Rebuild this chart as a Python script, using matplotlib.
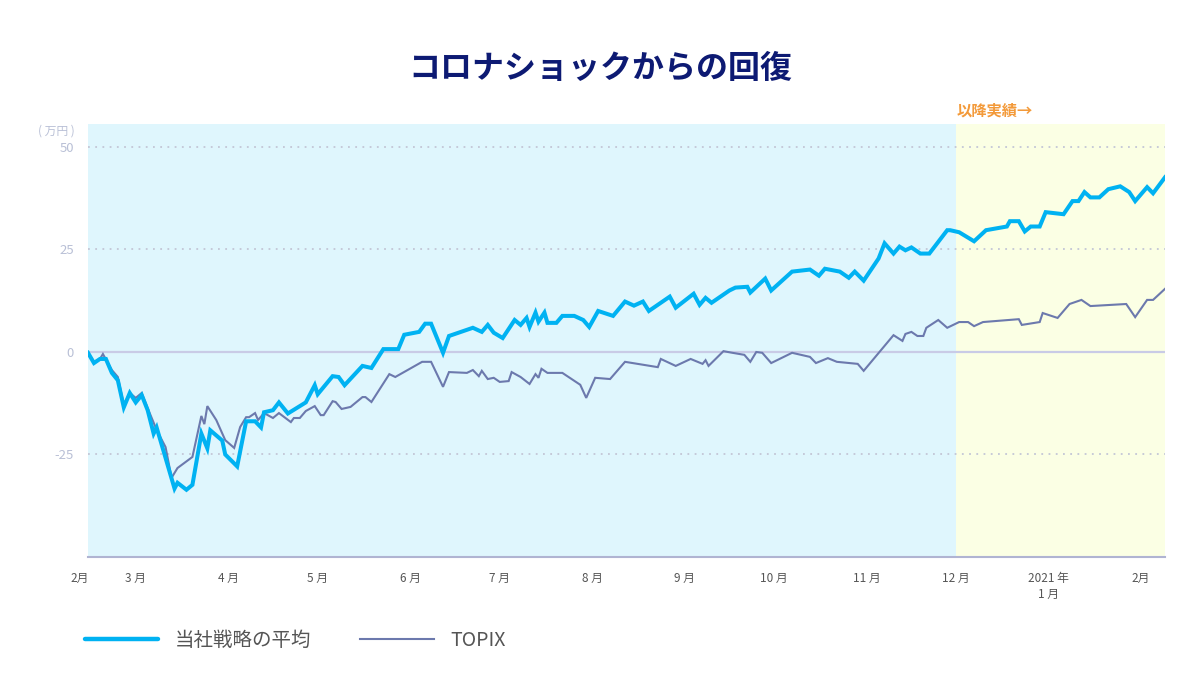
import matplotlib
matplotlib.use("Agg")
import matplotlib.pyplot as plt
import matplotlib.dates as mdates
from matplotlib.lines import Line2D
from matplotlib.transforms import ScaledTranslation
import pandas as pd

plt.rcParams['font.family'] = ['Noto Sans CJK JP', 'DejaVu Sans']

title = "コロナショックからの回復"
series_names = ["当社戦略の平均", "TOPIX"]
unit_label = "( 万円 )"
actual_label = "以降実績→"
actual_start = "2020-12-01"

strategy_dates = [
    "2020-02-14", "2020-02-16", "2020-02-18", "2020-02-20", "2020-02-22", "2020-02-24",
    "2020-02-26", "2020-02-28", "2020-03-01", "2020-03-03", "2020-03-05", "2020-03-07",
    "2020-03-08", "2020-03-14", "2020-03-15", "2020-03-18", "2020-03-20", "2020-03-23",
    "2020-03-25", "2020-03-26", "2020-03-30", "2020-03-31", "2020-04-04", "2020-04-07",
    "2020-04-10", "2020-04-12", "2020-04-13", "2020-04-16", "2020-04-18", "2020-04-21",
    "2020-04-25", "2020-04-27", "2020-04-30", "2020-05-01", "2020-05-06", "2020-05-08",
    "2020-05-10", "2020-05-16", "2020-05-19", "2020-05-23", "2020-05-28", "2020-05-30",
    "2020-06-04", "2020-06-06", "2020-06-08", "2020-06-12", "2020-06-14", "2020-06-22",
    "2020-06-25", "2020-06-27", "2020-06-29", "2020-07-02", "2020-07-06", "2020-07-08",
    "2020-07-10", "2020-07-11", "2020-07-13", "2020-07-14", "2020-07-16", "2020-07-17",
    "2020-07-20", "2020-07-22", "2020-07-26", "2020-07-29", "2020-07-31", "2020-08-03",
    "2020-08-08", "2020-08-12", "2020-08-15", "2020-08-18", "2020-08-20", "2020-08-27",
    "2020-08-29", "2020-09-04", "2020-09-06", "2020-09-08", "2020-09-10", "2020-09-16",
    "2020-09-18", "2020-09-22", "2020-09-23", "2020-09-28", "2020-09-30", "2020-10-07",
    "2020-10-13", "2020-10-16", "2020-10-18", "2020-10-23", "2020-10-26", "2020-10-28",
    "2020-10-31", "2020-11-05", "2020-11-07", "2020-11-10", "2020-11-12", "2020-11-14",
    "2020-11-16", "2020-11-19", "2020-11-22", "2020-11-28", "2020-11-29", "2020-12-02",
    "2020-12-07", "2020-12-11", "2020-12-18", "2020-12-19", "2020-12-22", "2020-12-24",
    "2020-12-26", "2020-12-29", "2020-12-31", "2021-01-06", "2021-01-09", "2021-01-11",
    "2021-01-13", "2021-01-15", "2021-01-18", "2021-01-21", "2021-01-25", "2021-01-28",
    "2021-01-30", "2021-02-03", "2021-02-05", "2021-02-09",
]
strategy_values = [
    -0.2, -2.7, -1.7, -1.7, -5.1, -6.9,
    -13.5, -10.0, -12.3, -10.5, -14.2, -19.9,
    -18.4, -33.3, -31.9, -33.6, -32.4, -19.9,
    -23.5, -19.1, -21.6, -25.0, -27.9, -16.9,
    -16.9, -18.4, -14.7, -14.2, -12.3, -15.0,
    -13.2, -12.3, -8.1, -10.3, -5.9, -6.1,
    -8.1, -3.4, -3.9, 0.7, 0.7, 4.2,
    4.9, 6.9, 6.9, -0.2, 3.9, 5.9,
    4.9, 6.6, 4.7, 3.4, 7.8, 6.6,
    8.3, 6.1, 9.6, 7.4, 9.6, 7.1,
    7.1, 8.8, 8.8, 7.8, 6.1, 10.0,
    8.8, 12.3, 11.3, 12.3, 10.0, 13.5,
    10.8, 14.2, 11.5, 13.2, 12.0, 15.0,
    15.7, 15.9, 14.5, 17.9, 15.0, 19.6,
    20.1, 18.6, 20.3, 19.6, 18.1, 19.6,
    17.4, 22.8, 26.5, 24.0, 25.7, 24.8,
    25.5, 24.0, 24.0, 29.7, 29.7, 29.2,
    27.0, 29.7, 30.6, 31.9, 31.9, 29.4,
    30.6, 30.6, 34.1, 33.6, 36.8, 36.8,
    39.0, 37.7, 37.7, 39.7, 40.4, 39.0,
    36.8, 40.2, 38.7, 42.6,
]

topix_dates = [
    "2020-02-14", "2020-02-16", "2020-02-18", "2020-02-19", "2020-02-22", "2020-02-24",
    "2020-02-26", "2020-02-28", "2020-03-01", "2020-03-03", "2020-03-05", "2020-03-08",
    "2020-03-11", "2020-03-13", "2020-03-15", "2020-03-20", "2020-03-23", "2020-03-24",
    "2020-03-25", "2020-03-28", "2020-03-31", "2020-04-03", "2020-04-05", "2020-04-07",
    "2020-04-08", "2020-04-10", "2020-04-11", "2020-04-13", "2020-04-16", "2020-04-18",
    "2020-04-22", "2020-04-23", "2020-04-25", "2020-04-27", "2020-04-30", "2020-05-02",
    "2020-05-03", "2020-05-06", "2020-05-07", "2020-05-09", "2020-05-12", "2020-05-16",
    "2020-05-17", "2020-05-19", "2020-05-25", "2020-05-27", "2020-06-05", "2020-06-08",
    "2020-06-12", "2020-06-14", "2020-06-20", "2020-06-22", "2020-06-24", "2020-06-25",
    "2020-06-27", "2020-06-29", "2020-07-01", "2020-07-04", "2020-07-05", "2020-07-08",
    "2020-07-11", "2020-07-13", "2020-07-14", "2020-07-15", "2020-07-17", "2020-07-22",
    "2020-07-28", "2020-07-30", "2020-08-02", "2020-08-07", "2020-08-12", "2020-08-23",
    "2020-08-24", "2020-08-29", "2020-09-03", "2020-09-07", "2020-09-08", "2020-09-09",
    "2020-09-14", "2020-09-17", "2020-09-21", "2020-09-23", "2020-09-25", "2020-09-27",
    "2020-09-30", "2020-10-07", "2020-10-13", "2020-10-15", "2020-10-19", "2020-10-22",
    "2020-10-29", "2020-10-31", "2020-11-10", "2020-11-13", "2020-11-14", "2020-11-16",
    "2020-11-18", "2020-11-20", "2020-11-21", "2020-11-25", "2020-11-28", "2020-12-02",
    "2020-12-05", "2020-12-07", "2020-12-10", "2020-12-22", "2020-12-23", "2020-12-29",
    "2020-12-30", "2021-01-04", "2021-01-08", "2021-01-12", "2021-01-15", "2021-01-27",
    "2021-01-30", "2021-02-03", "2021-02-05", "2021-02-09",
]
topix_values = [
    -0.2, -2.4, -1.7, -0.5, -4.4, -6.1,
    -12.9, -10.0, -11.2, -10.0, -13.7, -19.0,
    -23.2, -30.7, -28.3, -25.6, -15.6, -17.6,
    -13.2, -16.6, -21.5, -23.4, -18.3, -15.9,
    -15.9, -14.9, -16.6, -14.9, -16.1, -14.9,
    -17.1, -16.1, -16.1, -14.4, -13.2, -15.4,
    -15.4, -12.0, -12.2, -13.9, -13.4, -11.0,
    -11.0, -12.2, -5.4, -6.1, -2.4, -2.4,
    -8.5, -4.9, -5.1, -4.4, -5.9, -4.6,
    -6.6, -6.3, -7.3, -7.1, -4.9, -6.1,
    -7.8, -5.4, -6.3, -4.1, -5.1, -5.1,
    -8.0, -11.2, -6.3, -6.6, -2.4, -3.7,
    -1.7, -3.4, -1.7, -2.9, -2.0, -3.4,
    0.2, -0.2, -0.7, -2.4, 0.0, -0.2,
    -2.7, -0.2, -1.2, -2.7, -1.5, -2.4,
    -2.9, -4.6, 4.1, 2.7, 4.4, 4.9,
    3.9, 3.9, 5.9, 7.8, 5.9, 7.3,
    7.3, 6.3, 7.3, 8.0, 6.6, 7.3,
    9.5, 8.3, 11.7, 12.7, 11.2, 11.7,
    8.5, 12.7, 12.7, 15.4,
]

tick_dates = ["2020-02-14", "2020-03-01", "2020-04-01", "2020-05-01", "2020-06-01",
              "2020-07-01", "2020-08-01", "2020-09-01", "2020-10-01", "2020-11-01",
              "2020-12-01", "2021-01-01", "2021-02-01"]
tick_labels = ["2月", "3 月", "4 月", "5 月", "6 月", "7 月", "8 月", "9 月", "10 月",
               "11 月", "12 月", "2021 年\n1 月", "2月"]
y_ticks = [-25, 0, 25, 50]
y_tick_labels = ["-25", "0", "25", "50"]

x_start = pd.Timestamp("2020-02-14")
x_end = pd.Timestamp("2021-02-09")

fig = plt.figure(figsize=(12, 6.78), dpi=100)
ax = fig.add_axes([88/1200, 1-557/678, (1165-88)/1200, (557-124)/678])

s_d = pd.to_datetime(strategy_dates)
t_d = pd.to_datetime(topix_dates)

ax.set_xlim(x_start, x_end)
ax.set_ylim(-50, 55.6)

# background regions
ax.axvspan(x_start, pd.Timestamp(actual_start), color="#dff6fd", zorder=0, lw=0)
ax.axvspan(pd.Timestamp(actual_start), x_end, color="#fbffe4", zorder=0, lw=0)

# grid
for yv in [-25, 25, 50]:
    ax.axhline(yv, color="#c3c6d6", lw=1.3, ls=(0, (1, 3)), zorder=1)
ax.axhline(0, color="#c9cbe6", lw=1.6, zorder=1)

ax.plot(t_d, topix_values, color="#6c79ad", lw=1.5, zorder=3, solid_joinstyle="miter")
ax.plot(s_d, strategy_values, color="#00b2f2", lw=2.9, zorder=4, solid_joinstyle="miter")

for sp in ["top", "right", "left"]:
    ax.spines[sp].set_visible(False)
ax.spines["bottom"].set_color("#b0b4d2")
ax.spines["bottom"].set_linewidth(1.5)

ax.set_yticks(y_ticks)
ax.set_yticklabels(y_tick_labels)
ax.tick_params(axis="y", length=0, pad=10, labelsize=9.5, labelcolor="#b9c0d6")

ax.set_xticks(pd.to_datetime(tick_dates))
ax.set_xticklabels(tick_labels)
ax.tick_params(axis="x", length=0, pad=11, labelsize=8.5, labelcolor="#555555")
for lab in ax.get_xticklabels():
    lab.set_linespacing(1.3)
first = ax.get_xticklabels()[0]
first.set_transform(first.get_transform() + ScaledTranslation(-8/100, 0, fig.dpi_scale_trans))

fig.text(75/1200, 1-131/678, unit_label, ha="right", va="center", fontsize=8.5, color="#b9c0d6")

fig.text(0.5, 1-69/678, title, ha="center", va="center", fontsize=23,
         fontweight="bold", color="#0d1a73")
fig.text(957/1200, 1-111/678, actual_label, ha="left", va="center", fontsize=11,
         fontweight="bold", color="#f39a3a")

handles = [Line2D([], [], color="#00b2f2", lw=3.2, solid_capstyle="round"),
           Line2D([], [], color="#6c79ad", lw=1.5)]
fig.legend(handles, series_names, loc="center left", bbox_to_anchor=(67/1200, 1-640/678),
           ncol=2, frameon=False, fontsize=14, handlelength=3.8, handletextpad=0.85,
           columnspacing=2.5, labelcolor="#555555")

fig.savefig("out.png", dpi=100, facecolor="white")
